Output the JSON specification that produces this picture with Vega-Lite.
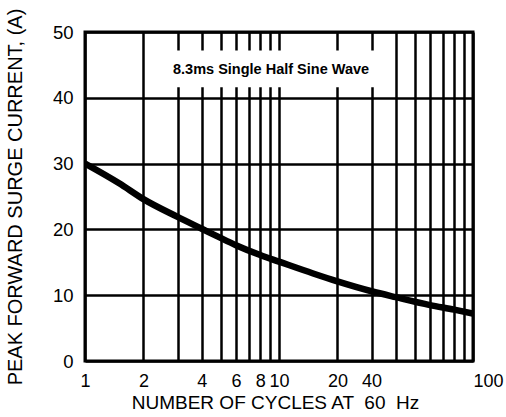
{
  "$schema": "https://vega.github.io/schema/vega-lite/v6.json",
  "width": 388,
  "height": 329,
  "autosize": {"type": "none"},
  "padding": {"left": 85, "top": 32, "right": 33, "bottom": 56},
  "background": "white",
  "config": {
    "view": {"stroke": "black", "strokeWidth": 3},
    "font": "Liberation Sans",
    "axis": {"gridColor": "black", "gridOpacity": 1, "gridWidth": 2.5, "domain": false, "ticks": false, "labelColor": "black", "titleColor": "black", "labelFont": "Liberation Sans", "titleFont": "Liberation Sans", "titleFontWeight": "normal"}
  },
  "datasets": {
    "curve": [
      {"cycles": 1, "current": 30},
      {"cycles": 1.5, "current": 27},
      {"cycles": 2, "current": 24.6},
      {"cycles": 3, "current": 21.9},
      {"cycles": 4, "current": 20.1},
      {"cycles": 5, "current": 18.7},
      {"cycles": 6, "current": 17.6},
      {"cycles": 8, "current": 16.1},
      {"cycles": 10, "current": 15.1},
      {"cycles": 15, "current": 13.3},
      {"cycles": 20, "current": 12.1},
      {"cycles": 30, "current": 10.6},
      {"cycles": 40, "current": 9.7},
      {"cycles": 60, "current": 8.5},
      {"cycles": 80, "current": 7.8},
      {"cycles": 100, "current": 7.2}
    ],
    "note": [{"text": "8.3ms Single Half Sine Wave"}]
  },
  "layer": [
    {
      "data": {"name": "curve"},
      "mark": {"type": "line", "color": "black", "strokeWidth": 6.5, "interpolate": "monotone", "clip": true},
      "encoding": {
        "x": {
          "field": "cycles", "type": "quantitative",
          "scale": {"type": "log", "domain": [1, 100], "nice": false},
          "axis": {
            "values": [1,2,3,4,5,6,7,8,9,10,20,30,40,50,60,70,80,90,100],
            "labelExpr": "indexof([1,2,4,6,8,10,20,30,100], datum.value) >= 0 ? (datum.value == 30 ? '40' : datum.label) : ''",
            "labelAlign": {"condition": {"test": "datum.value == 100", "value": "left"}, "value": "center"},
            "labelFontSize": 18, "labelPadding": 11, "labelFlush": false, "labelOverlap": false,
            "title": "NUMBER OF CYCLES AT \u00a060 \u00a0Hz", "titleFontSize": 19, "titlePadding": 3, "titleX": 190
          }
        },
        "y": {
          "field": "current", "type": "quantitative",
          "scale": {"domain": [0, 50], "nice": false},
          "axis": {
            "values": [0, 10, 20, 30, 40, 50],
            "labelFontSize": 18.5, "labelPadding": 12,
            "title": "PEAK FORWARD SURGE CURRENT, (A)", "titleFontSize": 20, "titlePadding": 27
          }
        }
      }
    },
    {
      "data": {"name": "note"},
      "mark": {"type": "rect", "fill": "white"},
      "encoding": {
        "x": {"datum": 2.45, "type": "quantitative"},
        "x2": {"datum": 33},
        "y": {"datum": 47.2, "type": "quantitative"},
        "y2": {"datum": 41.6}
      }
    },
    {
      "data": {"name": "note"},
      "mark": {"type": "text", "fontSize": 14.5, "fontWeight": "bold", "color": "black", "align": "center", "baseline": "middle"},
      "encoding": {
        "x": {"datum": 9.1, "type": "quantitative"},
        "y": {"datum": 44.3, "type": "quantitative"},
        "text": {"field": "text"}
      }
    }
  ]
}
